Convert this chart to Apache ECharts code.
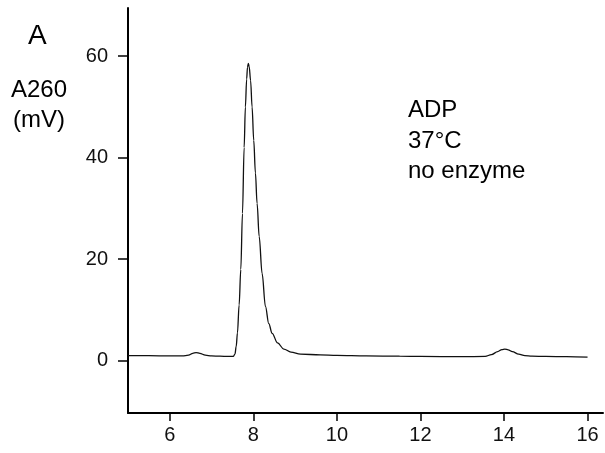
<!DOCTYPE html>
<html>
<head>
<meta charset="utf-8">
<script src="https://cdn.jsdelivr.net/npm/echarts@6/dist/echarts.min.js"></script>
<style>
  html, body { margin: 0; padding: 0; background: #fff; }
  #chart { width: 605px; height: 453px; }
</style>
</head>
<body>
<div id="chart"></div>
<script>
// retention time (min) and absorbance (mV)
var timeMin = [5.0, 5.5, 6.0, 6.3, 6.45, 6.55, 6.63, 6.72, 6.85, 7.0, 7.2, 7.4, 7.52,
  7.56, 7.59, 7.62, 7.66, 7.70, 7.74, 7.78, 7.81, 7.84, 7.86, 7.88, 7.90, 7.935,
  7.97, 8.01, 8.05, 8.09, 8.14, 8.21, 8.29, 8.37, 8.45, 8.58, 8.73, 8.9, 9.13,
  9.6, 10.0, 10.7, 11.5, 12.0, 13.0, 13.55, 13.7, 13.85, 13.95, 14.02, 14.1,
  14.2, 14.35, 14.5, 14.67, 15.0, 15.5, 16.0];
var a260 = [1.0, 1.0, 0.95, 0.95, 1.1, 1.45, 1.6, 1.45, 1.1, 0.95, 0.9, 0.85, 0.85,
  1.3, 2.8, 5.5, 11, 18, 29, 42, 50, 55.5, 57.8, 58.6, 58.0, 55.2,
  50, 43.4, 37, 31, 24.5, 17.2, 10.7, 7.3, 5.4, 3.5, 2.3, 1.7, 1.3,
  1.15, 1.05, 0.95, 0.9, 0.85, 0.8, 0.85, 1.2, 1.8, 2.2, 2.3, 2.15,
  1.8, 1.3, 1.0, 0.9, 0.85, 0.8, 0.7];
var xTicks = [6, 8, 10, 12, 14, 16];
var yTicks = [0, 20, 40, 60];

var series = [];
for (var i = 0; i < timeMin.length; i++) {
  series.push([timeMin[i], a260[i]]);
}

var font = 'Liberation Sans, Arial, sans-serif';
var chart = echarts.init(document.getElementById('chart'));
chart.setOption({
  animation: false,
  backgroundColor: '#fff',
  grid: { left: 128, right: 2, top: 8, bottom: 40, containLabel: false },
  xAxis: {
    type: 'value',
    min: 5,
    max: 16.37,
    axisLine: { show: true, onZero: false, lineStyle: { color: '#000', width: 2 } },
    axisTick: { show: true, length: 8, customValues: xTicks, lineStyle: { color: '#000', width: 1.5 } },
    axisLabel: { customValues: xTicks, color: '#111', fontSize: 20, fontFamily: font, margin: 12 },
    splitLine: { show: false }
  },
  yAxis: {
    type: 'value',
    min: -10.3,
    max: 69.5,
    axisLine: { show: true, onZero: false, lineStyle: { color: '#000', width: 2 } },
    axisTick: { show: true, length: 10, customValues: yTicks, lineStyle: { color: '#000', width: 1.5 } },
    axisLabel: { customValues: yTicks, color: '#111', fontSize: 20, fontFamily: font, margin: 20 },
    splitLine: { show: false }
  },
  series: [{
    type: 'line',
    data: series,
    showSymbol: false,
    smooth: 0.35,
    smoothMonotone: 'x',
    lineStyle: { color: '#111', width: 1.3 }
  }],
  graphic: [
    { type: 'text', left: 28, top: 22, style: { text: 'A', font: '28px ' + font, fill: '#000' } },
    { type: 'text', x: 39, y: 90, style: { text: 'A260', font: '24px ' + font, fill: '#000', align: 'center', verticalAlign: 'middle' } },
    { type: 'text', x: 39, y: 120, style: { text: '(mV)', font: '24px ' + font, fill: '#000', align: 'center', verticalAlign: 'middle' } },
    { type: 'text', x: 408, y: 110.5, style: { text: 'ADP', font: '24px ' + font, fill: '#000', verticalAlign: 'middle' } },
    { type: 'text', x: 408, y: 141, style: { text: '37°C', font: '24px ' + font, fill: '#000', verticalAlign: 'middle' } },
    { type: 'text', x: 408, y: 171.5, style: { text: 'no enzyme', font: '24px ' + font, fill: '#000', verticalAlign: 'middle' } }
  ]
});
</script>
</body>
</html>
